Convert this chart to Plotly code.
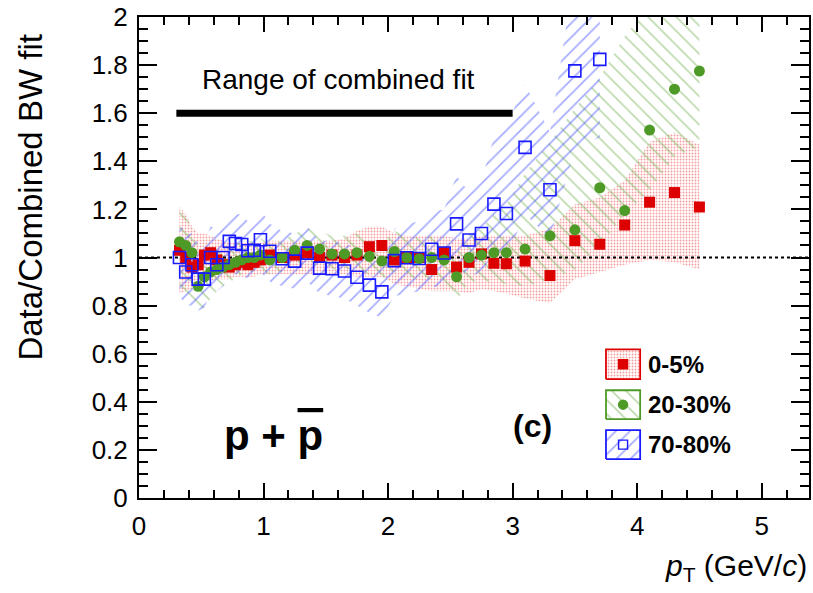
import plotly.graph_objects as go

# ---------------- data ----------------
pt_red = [0.325, 0.375, 0.425, 0.475, 0.525, 0.575, 0.625, 0.675, 0.725, 0.775,
          0.825, 0.875, 0.925, 0.975, 1.05, 1.15, 1.25, 1.35, 1.45, 1.55,
          1.65, 1.75, 1.85, 1.95, 2.05, 2.15, 2.25, 2.35, 2.45, 2.55,
          2.65, 2.75, 2.85, 2.95, 3.1, 3.3, 3.5, 3.7, 3.9, 4.1, 4.3, 4.5]
pt_green = list(pt_red)
pt_blue = [0.325, 0.375, 0.425, 0.475, 0.525, 0.575, 0.625, 0.675, 0.725, 0.775,
           0.825, 0.875, 0.925, 0.975, 1.05, 1.15, 1.25, 1.35, 1.45, 1.55,
           1.65, 1.75, 1.85, 1.95, 2.05, 2.15, 2.25, 2.35, 2.45, 2.55,
           2.65, 2.75, 2.85, 2.95, 3.1, 3.3, 3.5, 3.7]

ratio_red = [1.03, 1.00, 0.96, 0.97, 1.01, 1.02, 0.99, 0.97, 0.96, 0.97,
             0.98, 0.97, 0.98, 0.99, 1.01, 1.00, 1.01, 1.02, 1.00, 1.01,
             1.00, 1.01, 1.045, 1.05, 0.99, 1.00, 1.00, 0.95, 1.02, 0.96,
             0.98, 1.015, 0.976, 0.974, 0.985, 0.925, 1.07, 1.055, 1.135, 1.23, 1.27, 1.21]
ratio_green = [1.065, 1.05, 1.02, 0.88, 0.92, 0.94, 0.95, 0.96, 0.97, 0.98,
               0.99, 1.00, 1.00, 1.01, 0.99, 1.00, 1.03, 1.05, 1.035, 1.015,
               1.015, 1.02, 1.005, 0.985, 1.025, 1.00, 0.995, 1.00, 0.99, 0.92,
               1.00, 1.01, 1.02, 1.02, 1.035, 1.09, 1.115, 1.29, 1.195, 1.53, 1.70, 1.775]
ratio_blue = [1.00, 0.94, 0.97, 0.91, 0.91, 1.00, 0.97, 1.00, 1.067, 1.058,
              1.054, 1.028, 1.03, 1.074, 1.026, 0.995, 0.985, 1.018, 0.956, 0.953,
              0.944, 0.918, 0.885, 0.857, 0.987, 0.999, 0.996, 1.034, 1.019, 1.14,
              1.073, 1.10, 1.222, 1.183, 1.458, 1.282, 1.776, 1.824]

# systematic bands (lower / upper edges)
sys_red_lo = [0.85, 0.86, 0.87, 0.88, 0.90, 0.90, 0.91, 0.91, 0.91, 0.92,
              0.92, 0.92, 0.92, 0.93, 0.93, 0.93, 0.93, 0.93, 0.93, 0.93,
              0.93, 0.92, 0.92, 0.92, 0.89, 0.88, 0.87, 0.86, 0.86, 0.86,
              0.85, 0.87, 0.86, 0.85, 0.83, 0.81, 0.91, 0.94, 0.97, 0.99, 0.98, 0.95]
sys_red_hi = [1.21, 1.18, 1.13, 1.10, 1.10, 1.09, 1.08, 1.07, 1.06, 1.06,
              1.06, 1.06, 1.06, 1.06, 1.07, 1.07, 1.07, 1.07, 1.07, 1.07,
              1.08, 1.11, 1.13, 1.13, 1.10, 1.09, 1.09, 1.09, 1.09, 1.08,
              1.08, 1.09, 1.09, 1.09, 1.09, 1.12, 1.22, 1.25, 1.32, 1.48, 1.52, 1.47]
sys_green_lo = [0.88, 0.86, 0.83, 0.78, 0.79, 0.83, 0.86, 0.88, 0.90, 0.91,
                0.93, 0.94, 0.94, 0.95, 0.93, 0.94, 0.96, 0.98, 0.97, 0.95,
                0.95, 0.95, 0.93, 0.91, 0.94, 0.92, 0.91, 0.91, 0.90, 0.82,
                0.90, 0.90, 0.90, 0.89, 0.88, 0.91, 0.95, 1.05, 1.18, 1.28, 1.42, 1.46]
sys_green_hi = [1.22, 1.17, 1.12, 1.04, 1.03, 1.04, 1.04, 1.05, 1.05, 1.06,
                1.06, 1.07, 1.07, 1.08, 1.06, 1.07, 1.10, 1.12, 1.11, 1.09,
                1.09, 1.10, 1.08, 1.06, 1.11, 1.09, 1.08, 1.09, 1.08, 1.02,
                1.10, 1.12, 1.18, 1.22, 1.35, 1.48, 1.62, 1.75, 1.92, 2.05, 2.10, 2.15]
sys_blue_lo = [0.84, 0.80, 0.80, 0.78, 0.79, 0.86, 0.86, 0.88, 0.93, 0.93,
               0.93, 0.91, 0.91, 0.94, 0.90, 0.88, 0.87, 0.90, 0.85, 0.84,
               0.83, 0.80, 0.77, 0.75, 0.84, 0.85, 0.86, 0.88, 0.87, 0.96,
               0.92, 0.94, 1.02, 1.00, 1.18, 1.08, 1.45, 1.50]
sys_blue_hi = [1.14, 1.10, 1.10, 1.06, 1.06, 1.13, 1.12, 1.13, 1.18, 1.18,
               1.18, 1.15, 1.15, 1.20, 1.14, 1.11, 1.10, 1.13, 1.07, 1.07,
               1.06, 1.04, 1.00, 0.97, 1.12, 1.14, 1.15, 1.19, 1.20, 1.34,
               1.27, 1.32, 1.50, 1.55, 1.72, 1.52, 2.20, 2.20]

labels = ["0-5%", "20-30%", "70-80%"]
fit_range = [0.3, 3.0]
fit_level = [1.6, 1.6]
unity_x = [0.0, 5.38]
unity_y = [1.0, 1.0]

# ---------------- styles ----------------
RED = "#dd0000"
GREEN = "#4e9a26"
BLUE = "#1a1aff"
FONT = "Liberation Sans, Arial, Helvetica, sans-serif"

pat_red = dict(shape=".", fgcolor="#ee3a3a", bgcolor="rgba(255,255,255,0)", size=3, solidity=0.3)
pat_green = dict(shape="\\", fgcolor="#7ab35a", bgcolor="rgba(255,255,255,0)", size=10, solidity=0.17)
pat_blue = dict(shape="/", fgcolor="#4a55ff", bgcolor="rgba(255,255,255,0)", size=10, solidity=0.17)

fig = go.Figure()


def band(x, lo, hi, pat):
    fig.add_trace(go.Scatter(
        x=list(x) + list(x)[::-1], y=list(hi) + list(lo)[::-1],
        mode="lines", fill="toself", line=dict(width=0, color="rgba(0,0,0,0)"),
        fillcolor="rgba(0,0,0,0)", fillpattern=pat, hoverinfo="skip", showlegend=False))


band(pt_red, sys_red_lo, sys_red_hi, pat_red)
band(pt_green, sys_green_lo, sys_green_hi, pat_green)
band(pt_blue, sys_blue_lo, sys_blue_hi, pat_blue)

# unity reference line
fig.add_trace(go.Scatter(x=unity_x, y=unity_y, mode="lines",
                         line=dict(color="black", width=2, dash="dot"),
                         hoverinfo="skip", showlegend=False))
# range of combined fit
fig.add_trace(go.Scatter(x=fit_range, y=fit_level, mode="lines",
                         line=dict(color="black", width=7),
                         hoverinfo="skip", showlegend=False))

fig.add_trace(go.Scatter(x=pt_red, y=ratio_red, mode="markers", name=labels[0],
                         marker=dict(symbol="square", size=11, color=RED), showlegend=False))
fig.add_trace(go.Scatter(x=pt_green, y=ratio_green, mode="markers", name=labels[1],
                         marker=dict(symbol="circle", size=11, color=GREEN), showlegend=False))
fig.add_trace(go.Scatter(x=pt_blue, y=ratio_blue, mode="markers", name=labels[2],
                         marker=dict(symbol="square-open", size=12, color=BLUE,
                                     line=dict(width=1.6, color=BLUE)), showlegend=False))

# ---------------- manual legend (in an overlay axis, 0..1 frame) ----------------
leg_x0, leg_x1 = 0.697, 0.748
leg_rows = [(0.247, 0.309), (0.164, 0.224), (0.081, 0.141)]
leg_pats = [pat_red, pat_green, pat_blue]
leg_cols = [RED, GREEN, BLUE]
leg_syms = ["square", "circle", "square-open"]
for (y0, y1), pat, col, sym, lab in zip(leg_rows, leg_pats, leg_cols, leg_syms, labels):
    fig.add_trace(go.Scatter(
        x=[leg_x0, leg_x1, leg_x1, leg_x0, leg_x0], y=[y0, y0, y1, y1, y0],
        xaxis="x2", yaxis="y2", mode="lines", fill="toself",
        line=dict(color=col, width=1.8), fillcolor="rgba(0,0,0,0)", fillpattern=pat,
        hoverinfo="skip", showlegend=False))
    fig.add_trace(go.Scatter(
        x=[(leg_x0 + leg_x1) / 2], y=[(y0 + y1) / 2], xaxis="x2", yaxis="y2",
        mode="markers", marker=dict(symbol=sym, size=9, color=col, line=dict(width=1.4, color=col)),
        hoverinfo="skip", showlegend=False))
    fig.add_annotation(x=0.757, y=(y0 + y1) / 2, xref="x2", yref="y2", text="<b>%s</b>" % lab,
                       showarrow=False, xanchor="left", yanchor="middle",
                       font=dict(family=FONT, size=24, color="black"))

# ---------------- text ----------------
fig.add_annotation(x=1.6, y=1.74, text="Range of combined fit", showarrow=False,
                   font=dict(family=FONT, size=28, color="black"))
fig.add_annotation(x=1.08, y=0.26, showarrow=False,
                   text='<b>p + <span style="text-decoration:overline">p</span></b>',
                   font=dict(family=FONT, size=42, color="black"))
fig.add_annotation(x=3.16, y=0.30, text="<b>(c)</b>", showarrow=False,
                   font=dict(family=FONT, size=32, color="black"))
fig.add_annotation(xref="paper", yref="paper", x=-0.1624, y=0.625, textangle=-90,
                   text="Data/Combined BW fit", showarrow=False,
                   xanchor="center", yanchor="middle",
                   font=dict(family=FONT, size=33, color="black"))
fig.add_annotation(xref="paper", yref="paper", x=1.0, y=-0.145,
                   text="<i>p</i><sub>T</sub> (GeV/<i>c</i>)", showarrow=False,
                   xanchor="right", yanchor="middle",
                   font=dict(family=FONT, size=30, color="black"))

axis_common = dict(showline=True, linecolor="black", linewidth=2, mirror="allticks",
                   ticks="inside", tickcolor="black", tickwidth=2,
                   showgrid=False, zeroline=False,
                   tickfont=dict(family=FONT, size=26, color="black"))

fig.update_layout(
    width=813, height=593,
    margin=dict(l=139, r=2, t=16, b=95),
    paper_bgcolor="white", plot_bgcolor="white",
    showlegend=False,
    xaxis=dict(range=[0, 5.38], tick0=0, dtick=1, ticklen=15,
               minor=dict(dtick=0.2, ticklen=8, tickwidth=1.5, ticks="inside", tickcolor="black"),
               ticklabelstandoff=4, **axis_common),
    yaxis=dict(range=[0, 2], tick0=0, dtick=0.2, ticklen=18,
               minor=dict(dtick=0.05, ticklen=9, tickwidth=1.5, ticks="inside", tickcolor="black"),
               ticklabelstandoff=4, **axis_common),
    xaxis2=dict(range=[0, 1], overlaying="x", visible=False, fixedrange=True),
    yaxis2=dict(range=[0, 1], overlaying="y", visible=False, fixedrange=True),
)

fig.write_html("out.html")
